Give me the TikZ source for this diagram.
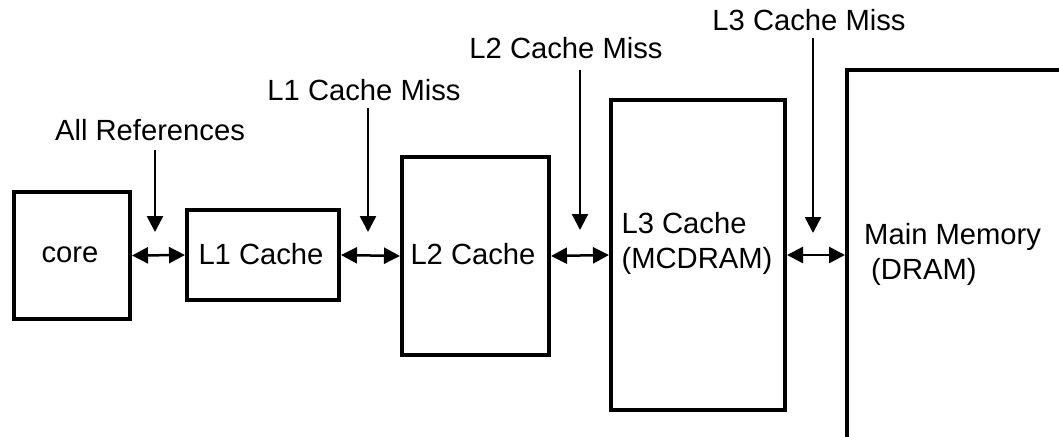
\documentclass[tikz,border=0pt]{standalone}
\usepackage{fontspec}
\setmainfont{Liberation Sans}
\usetikzlibrary{arrows.meta}
\begin{document}
\begin{tikzpicture}[x=1pt,y=-1pt,
  box/.style={draw,line width=4pt,inner sep=0pt,anchor=north west},
  lbl/.style={font=\fontsize{29.2}{35}\selectfont,inner sep=0pt},
  link/.style={line width=2.5pt,{Triangle[length=16pt,width=16pt]}-{Triangle[length=16pt,width=16pt]}},
  down/.style={line width=2.5pt,-{Triangle[length=16pt,width=16pt]}}]
\useasboundingbox (0,0) rectangle (1059,436);
\clip (0,0) rectangle (1059,436);
\fill[white] (0,0) rectangle (1059,436);
\node[box,minimum width=116pt,minimum height=127pt] (core) at (12,190) {};
\node[box,minimum width=152pt,minimum height=90pt] (l1) at (185,208) {};
\node[box,minimum width=147pt,minimum height=198pt] (l2) at (400,155) {};
\node[box,minimum width=174pt,minimum height=310pt] (l3) at (609,98) {};
\node[box,minimum width=300pt,minimum height=372pt] (mm) at (845,68) {};
\node[lbl] (coret) at (70,255) {core};
\node[lbl] (l1t) at (261,254) {L1 Cache};
\node[lbl] (l2t) at (473,254) {L2 Cache};
\node[lbl,align=left] (l3t) at (697,243) {L3 Cache\\(MCDRAM)};
\node[lbl,align=left,anchor=west] (mmt) at (864,254) {Main Memory\\\hspace{7pt}(DRAM)};
\draw[link] (core.east) -- (l1.west);
\draw[link] (l1.east) -- (l2.west);
\draw[link] (l2.east) -- (l3.west);
\draw[link] (l3.east) -- (mm.west |- l3.east);
\node[lbl] (ar) at (150,130) {All References};
\node[lbl] (m1) at (364,90) {L1 Cache Miss};
\node[lbl] (m2) at (566,48) {L2 Cache Miss};
\node[lbl] (m3) at (809,20) {L3 Cache Miss};
\coordinate (ar1) at (155,150); \coordinate (ar2) at (155,232);
\coordinate (m11) at (368,108); \coordinate (m12) at (368,232);
\coordinate (m21) at (580,70); \coordinate (m22) at (580,230);
\coordinate (m31) at (813,38); \coordinate (m32) at (813,233);
\draw[down] (ar1) -- (ar2);
\draw[down] (m11) -- (m12);
\draw[down] (m21) -- (m22);
\draw[down] (m31) -- (m32);
\end{tikzpicture}
\end{document}
